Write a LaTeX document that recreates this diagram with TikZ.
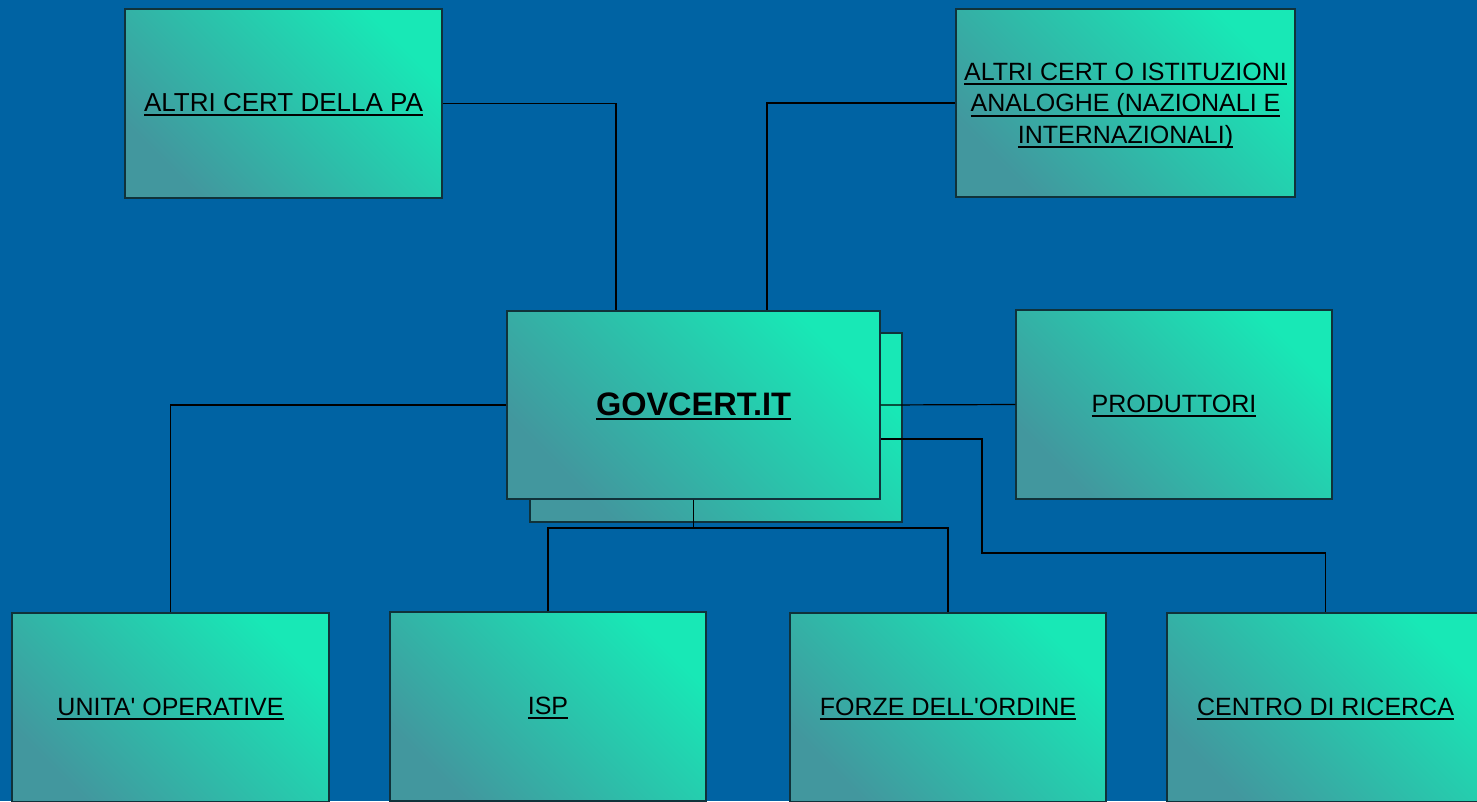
\documentclass[tikz,border=0pt]{standalone}
\usepackage{fontspec}
\setmainfont{Liberation Sans}[Ligatures=TeXOff]
\definecolor{bgblue}{HTML}{0063A3}
\definecolor{boxbright}{HTML}{18E8B6}
\definecolor{boxmid}{HTML}{2CC0AA}
\definecolor{boxdull}{HTML}{42979E}
\definecolor{boxedge}{HTML}{10323A}
\newcommand\ulx[1]{\setbox0\hbox{#1}\rlap{\rule[-4.6pt]{\wd0}{2pt}}\box0}
\tikzset{
  cbox/.style={draw=boxedge, line width=1.2pt, top color=boxbright, bottom color=boxdull, middle color=boxmid, shading angle=-45,
    minimum width=317pt, minimum height=189pt, inner sep=0pt, align=center, font=\fontsize{25}{31.5}\selectfont},
  onel/.style={text depth=2pt},
  link/.style={draw=black, line width=1.2pt},
}
\begin{document}
\begin{tikzpicture}[x=1pt,y=-1pt]
\fill[bgblue] (0,0) rectangle (1477,801);
\useasboundingbox (0,0) rectangle (1477,801);

\node[cbox, onel, font=\fontsize{26}{31.5}\selectfont] (pa) at (283.5,103.5) {\ulx{ALTRI CERT DELLA PA}};
\node[cbox, minimum width=339pt, minimum height=188pt] (ist) at (1125.5,103) {\rule{0pt}{23pt}\ulx{ALTRI CERT O ISTITUZIONI}\\\ulx{ANALOGHE (NAZIONALI E}\\\ulx{INTERNAZIONALI)}};
\node[cbox, minimum width=372pt, minimum height=189pt] (govshadow) at (716,427.5) {};
\node[cbox, onel, minimum width=373pt, minimum height=188pt, font=\fontsize{32.5}{36}\selectfont\bfseries] (gov) at (693.5,405) {\ulx{GOVCERT.IT}};
\node[cbox, onel, minimum width=316pt] (prod) at (1174,404.5) {\ulx{PRODUTTORI}};
\node[cbox, onel] (uo) at (170.5,707.5) {\ulx{UNITA' OPERATIVE}};
\node[cbox, onel, minimum width=316pt] (isp) at (548,706.5) {\ulx{ISP}};
\node[cbox, onel, minimum width=316pt] (fo) at (948,707.5) {\ulx{FORZE DELL'ORDINE}};
\node[cbox, onel] (cr) at (1325.5,707.5) {\ulx{CENTRO DI RICERCA}};

\coordinate (xa) at (616,0);
\coordinate (xb) at (767,0);
\coordinate (k1) at (982,553);
\coordinate (k2) at (694,528);

\draw[link] (pa.east) -| (xa |- gov.north);
\draw[link] (ist.west) -| (xb |- gov.north);
\draw[link] (gov.west) -| (uo.north);
\draw[link] (gov.east) -- (prod.west);
\draw[link] ([yshift=-34pt]gov.east) -| (k1) -| (cr.north);
\draw[link] (gov.south) -- (gov.south |- k2);
\draw[link] (isp.north) |- (k2) -| (fo.north);
\end{tikzpicture}
\end{document}
